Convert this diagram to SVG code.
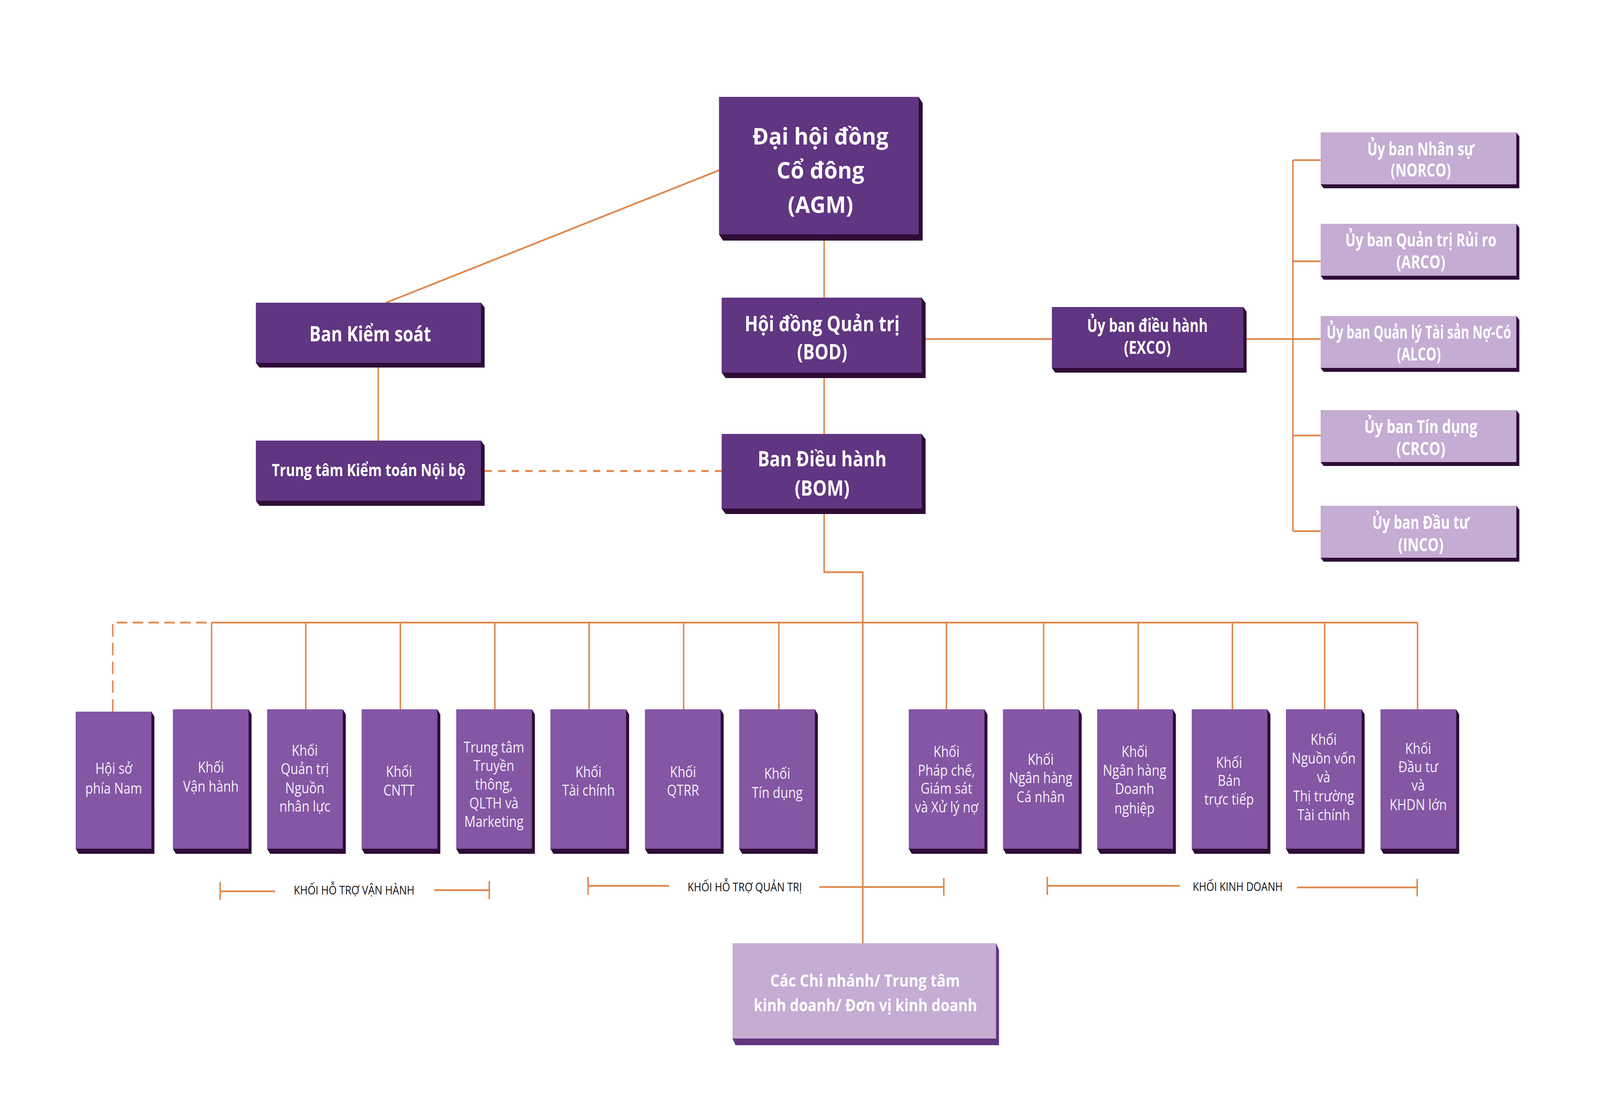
<svg xmlns="http://www.w3.org/2000/svg" width="4840" height="2824" viewBox="0 0 4840 2824" preserveAspectRatio="none">
<style>
svg:root{width:100vw;height:100vh;display:block}
.bg{fill:#ffffff}
.c{stroke:#e0874a;stroke-width:4.5;fill:none}
.d1{stroke:#e0874a;stroke-width:5;fill:none;stroke-dasharray:22 19}
.d2{stroke:#e0874a;stroke-width:4.5;fill:none;stroke-dasharray:32 16}
.m{fill:#603581}
.s{fill:#2e0c37}
.l{fill:#c4acd3}
.b{fill:#8456a4}
.sm{fill:#603581}
.t{font-family:"Open Sans","Noto Sans","DejaVu Sans",sans-serif;font-weight:700;fill:#ffffff;text-anchor:middle}
.r{font-family:"Open Sans","Noto Sans","DejaVu Sans",sans-serif;font-weight:400;fill:#f4eff8;text-anchor:middle;font-size:38px}
.g{font-family:"Open Sans","Noto Sans","DejaVu Sans",sans-serif;font-weight:400;fill:#111111;text-anchor:middle;font-size:31px}
</style>
<rect class="bg" x="0" y="0" width="4840" height="2824"/>

<g id="connectors">
  <path class="c" d="M2493 616 V762"/>
  <path class="c" d="M2493 968 V1111"/>
  <path class="c" d="M2493 1316 V1465 H2610 V2415"/>
  <path class="c" d="M2800 868 H3182"/>
  <path class="c" d="M3771 868 H3995"/>
  <path class="c" d="M3911 410 V1360"/>
  <path class="c" d="M3911 410 H3995 M3911 669 H3995 M3911 1115 H3995 M3911 1360 H3995"/>
  <path class="c" d="M2175 436 L1168 775"/>
  <path class="c" d="M1144 941 V1128"/>
  <path class="d1" d="M1466 1206 H2183"/>
  <path class="c" d="M640 1594 H4288"/>
  <path class="d2" d="M341 1822 V1594 H640"/>
  <path class="c" d="M640 1594 V1816 M925 1594 V1816 M1211 1594 V1816 M1497 1594 V1816 M1782 1594 V1816 M2068 1594 V1816 M2356 1594 V1816 M2863 1594 V1816 M3157 1594 V1816 M3443 1594 V1816 M3728 1594 V1816 M4007 1594 V1816 M4288 1594 V1816"/>
  <path class="c" d="M666 2258 V2304 M666 2282 H832 M1314 2279 H1480 M1480 2256 V2302"/>
  <path class="c" d="M1779 2245 V2291 M1779 2268 H2024 M2478 2271 H2855 M2855 2248 V2293"/>
  <path class="c" d="M3168 2245 V2291 M3168 2268 H3569 M3923 2272 H4287 M4287 2250 V2295"/>
</g>

<g id="agm">
  <polygon class="s" points="2779,248 2791,264 2791,616 2187,616 2175,600"/>
  <rect class="m" x="2175" y="248" width="604" height="352"/>
  <text class="t" font-size="60" x="2482" y="370" textLength="411" lengthAdjust="spacingAndGlyphs">Đại hội đồng</text>
  <text class="t" font-size="60" x="2482" y="457" textLength="265" lengthAdjust="spacingAndGlyphs">Cổ đông</text>
  <text class="t" font-size="60" x="2482" y="545" textLength="198" lengthAdjust="spacingAndGlyphs">(AGM)</text>
</g>

<g id="bod">
  <polygon class="s" points="2788,762 2800,776 2800,968 2195,968 2183,954"/>
  <rect class="m" x="2183" y="762" width="605" height="192"/>
  <text class="t" font-size="54" x="2487" y="848" textLength="469" lengthAdjust="spacingAndGlyphs">Hội đồng Quản trị</text>
  <text class="t" font-size="54" x="2487" y="920" textLength="152" lengthAdjust="spacingAndGlyphs">(BOD)</text>
</g>

<g id="bom">
  <polygon class="s" points="2788,1111 2800,1125 2800,1316 2195,1316 2183,1302"/>
  <rect class="m" x="2183" y="1111" width="605" height="191"/>
  <text class="t" font-size="54" x="2487" y="1194" textLength="390" lengthAdjust="spacingAndGlyphs">Ban Điều hành</text>
  <text class="t" font-size="54" x="2487" y="1269" textLength="166" lengthAdjust="spacingAndGlyphs">(BOM)</text>
</g>

<g id="ban-kiem-soat">
  <polygon class="s" points="1455,775 1466,787 1466,941 785,941 774,929"/>
  <rect class="m" x="774" y="775" width="681" height="154"/>
  <text class="t" font-size="53" x="1120" y="874" textLength="368" lengthAdjust="spacingAndGlyphs">Ban Kiểm soát</text>
</g>

<g id="ttkt">
  <polygon class="s" points="1455,1128 1466,1141 1466,1295 785,1295 774,1282"/>
  <rect class="m" x="774" y="1128" width="681" height="154"/>
  <text class="t" font-size="43" x="1115" y="1219" textLength="586" lengthAdjust="spacingAndGlyphs">Trung tâm Kiểm toán Nội bộ</text>
</g>

<g id="exco">
  <polygon class="s" points="3761,786 3771,798 3771,954 3192,954 3182,942"/>
  <rect class="m" x="3182" y="786" width="579" height="156"/>
  <text class="t" font-size="46" x="3471" y="850" textLength="365" lengthAdjust="spacingAndGlyphs">Ủy ban điều hành</text>
  <text class="t" font-size="46" x="3471" y="906" textLength="142" lengthAdjust="spacingAndGlyphs">(EXCO)</text>
</g>

<g id="norco">
  <polygon class="s" points="4587,339 4596,349 4596,482 4004,482 3995,472"/>
  <rect class="l" x="3995" y="339" width="592" height="133"/>
  <text class="t" font-size="46" x="4298" y="398" textLength="324" lengthAdjust="spacingAndGlyphs">Ủy ban Nhân sự</text>
  <text class="t" font-size="46" x="4298" y="452" textLength="182" lengthAdjust="spacingAndGlyphs">(NORCO)</text>
</g>
<g id="arco">
  <polygon class="s" points="4587,573 4596,583 4596,716 4004,716 3995,706"/>
  <rect class="l" x="3995" y="573" width="592" height="133"/>
  <text class="t" font-size="46" x="4298" y="631" textLength="457" lengthAdjust="spacingAndGlyphs">Ủy ban Quản trị Rủi ro</text>
  <text class="t" font-size="46" x="4298" y="687" textLength="148" lengthAdjust="spacingAndGlyphs">(ARCO)</text>
</g>
<g id="alco">
  <polygon class="s" points="4587,809 4596,819 4596,952 4004,952 3995,942"/>
  <rect class="l" x="3995" y="809" width="592" height="133"/>
  <text class="t" font-size="46" x="4292" y="867" textLength="558" lengthAdjust="spacingAndGlyphs">Ủy ban Quản lý Tài sản Nợ-Có</text>
  <text class="t" font-size="46" x="4292" y="923" textLength="133" lengthAdjust="spacingAndGlyphs">(ALCO)</text>
</g>
<g id="crco">
  <polygon class="s" points="4587,1050 4596,1060 4596,1193 4004,1193 3995,1183"/>
  <rect class="l" x="3995" y="1050" width="592" height="133"/>
  <text class="t" font-size="46" x="4298" y="1109" textLength="342" lengthAdjust="spacingAndGlyphs">Ủy ban Tín dụng</text>
  <text class="t" font-size="46" x="4298" y="1165" textLength="148" lengthAdjust="spacingAndGlyphs">(CRCO)</text>
</g>
<g id="inco">
  <polygon class="s" points="4587,1295 4596,1305 4596,1438 4004,1438 3995,1428"/>
  <rect class="l" x="3995" y="1295" width="592" height="133"/>
  <text class="t" font-size="46" x="4298" y="1354" textLength="294" lengthAdjust="spacingAndGlyphs">Ủy ban Đầu tư</text>
  <text class="t" font-size="46" x="4298" y="1411" textLength="137" lengthAdjust="spacingAndGlyphs">(INCO)</text>
</g>

<g id="hoi-so-phia-nam">
  <polygon class="s" points="458,1822 467,1835 467,2186 238,2186 229,2173"/>
  <rect class="b" x="229" y="1822" width="229" height="351"/>
  <text class="r" x="344" y="1981">Hội sở</text>
  <text class="r" x="344" y="2032">phía Nam</text>
</g>
<g id="khoi-van-hanh">
  <polygon class="s" points="752,1816 761,1829 761,2186 532,2186 523,2173"/>
  <rect class="b" x="523" y="1816" width="229" height="357"/>
  <text class="r" x="638" y="1978">Khối</text>
  <text class="r" x="638" y="2027">Vận hành</text>
</g>
<g id="khoi-nnl">
  <polygon class="s" points="1037,1816 1046,1829 1046,2186 817,2186 808,2173"/>
  <rect class="b" x="808" y="1816" width="229" height="357"/>
  <text class="r" x="922" y="1935">Khối</text>
  <text class="r" x="922" y="1982">Quản trị</text>
  <text class="r" x="922" y="2031">Nguồn</text>
  <text class="r" x="922" y="2078">nhân lực</text>
</g>
<g id="khoi-cntt">
  <polygon class="s" points="1323,1816 1332,1829 1332,2186 1103,2186 1094,2173"/>
  <rect class="b" x="1094" y="1816" width="229" height="357"/>
  <text class="r" x="1207" y="1989">Khối</text>
  <text class="r" x="1207" y="2037">CNTT</text>
</g>
<g id="tt-truyen-thong">
  <polygon class="s" points="1609,1816 1618,1829 1618,2186 1389,2186 1380,2173"/>
  <rect class="b" x="1380" y="1816" width="229" height="357"/>
  <text class="r" x="1494" y="1927">Trung tâm</text>
  <text class="r" x="1494" y="1974">Truyền</text>
  <text class="r" x="1494" y="2022">thông,</text>
  <text class="r" x="1494" y="2070">QLTH và</text>
  <text class="r" x="1494" y="2117">Marketing</text>
</g>
<g id="khoi-tai-chinh">
  <polygon class="s" points="1894,1816 1903,1829 1903,2186 1674,2186 1665,2173"/>
  <rect class="b" x="1665" y="1816" width="229" height="357"/>
  <text class="r" x="1780" y="1990">Khối</text>
  <text class="r" x="1780" y="2037">Tài chính</text>
</g>
<g id="khoi-qtrr">
  <polygon class="s" points="2180,1816 2189,1829 2189,2186 1960,2186 1951,2173"/>
  <rect class="b" x="1951" y="1816" width="229" height="357"/>
  <text class="r" x="2066" y="1990">Khối</text>
  <text class="r" x="2066" y="2037">QTRR</text>
</g>
<g id="khoi-tin-dung">
  <polygon class="s" points="2465,1816 2474,1829 2474,2186 2245,2186 2236,2173"/>
  <rect class="b" x="2236" y="1816" width="229" height="357"/>
  <text class="r" x="2351" y="1994">Khối</text>
  <text class="r" x="2351" y="2043">Tín dụng</text>
</g>
<g id="khoi-phap-che">
  <polygon class="s" points="2978,1816 2987,1829 2987,2186 2758,2186 2749,2173"/>
  <rect class="b" x="2749" y="1816" width="229" height="357"/>
  <text class="r" x="2863" y="1938">Khối</text>
  <text class="r" x="2863" y="1986">Pháp chế,</text>
  <text class="r" x="2863" y="2032">Giám sát</text>
  <text class="r" x="2863" y="2080">và Xử lý nợ</text>
</g>
<g id="khoi-nh-ca-nhan">
  <polygon class="s" points="3263,1816 3272,1829 3272,2186 3043,2186 3034,2173"/>
  <rect class="b" x="3034" y="1816" width="229" height="357"/>
  <text class="r" x="3148" y="1958">Khối</text>
  <text class="r" x="3148" y="2005">Ngân hàng</text>
  <text class="r" x="3148" y="2054">Cá nhân</text>
</g>
<g id="khoi-nh-doanh-nghiep">
  <polygon class="s" points="3548,1816 3557,1829 3557,2186 3328,2186 3319,2173"/>
  <rect class="b" x="3319" y="1816" width="229" height="357"/>
  <text class="r" x="3432" y="1938">Khối</text>
  <text class="r" x="3432" y="1986">Ngân hàng</text>
  <text class="r" x="3432" y="2033">Doanh</text>
  <text class="r" x="3432" y="2083">nghiệp</text>
</g>
<g id="khoi-ban-truc-tiep">
  <polygon class="s" points="3834,1816 3843,1829 3843,2186 3614,2186 3605,2173"/>
  <rect class="b" x="3605" y="1816" width="229" height="357"/>
  <text class="r" x="3718" y="1966">Khối</text>
  <text class="r" x="3718" y="2012">Bán</text>
  <text class="r" x="3718" y="2060">trực tiếp</text>
</g>
<g id="khoi-nguon-von">
  <polygon class="s" points="4119,1816 4128,1829 4128,2186 3899,2186 3890,2173"/>
  <rect class="b" x="3890" y="1816" width="229" height="357"/>
  <text class="r" x="4004" y="1907">Khối</text>
  <text class="r" x="4004" y="1955">Nguồn vốn</text>
  <text class="r" x="4004" y="2003">và</text>
  <text class="r" x="4004" y="2052">Thị trường</text>
  <text class="r" x="4004" y="2100">Tài chính</text>
</g>
<g id="khoi-dau-tu">
  <polygon class="s" points="4405,1816 4414,1829 4414,2186 4185,2186 4176,2173"/>
  <rect class="b" x="4176" y="1816" width="229" height="357"/>
  <text class="r" x="4290" y="1930">Khối</text>
  <text class="r" x="4290" y="1977">Đầu tư</text>
  <text class="r" x="4290" y="2024">và</text>
  <text class="r" x="4290" y="2074">KHDN lớn</text>
</g>

<g id="chi-nhanh">
  <polygon class="sm" points="3013,2415 3022,2432 3022,2676 2225,2676 2216,2659"/>
  <rect class="l" x="2216" y="2415" width="797" height="244"/>
  <text class="t" font-size="43" x="2617" y="2526" textLength="574" lengthAdjust="spacingAndGlyphs">Các Chi nhánh/ Trung tâm</text>
  <text class="t" font-size="43" x="2618" y="2589" textLength="676" lengthAdjust="spacingAndGlyphs">kinh doanh/ Đơn vị kinh doanh</text>
</g>

<g id="group-labels">
  <text class="g" x="1071" y="2290" textLength="365" lengthAdjust="spacingAndGlyphs">KHỐI HỖ TRỢ VẬN HÀNH</text>
  <text class="g" x="2253" y="2282" textLength="346" lengthAdjust="spacingAndGlyphs">KHỐI HỖ TRỢ QUẢN TRỊ</text>
  <text class="g" x="3744" y="2281" textLength="272" lengthAdjust="spacingAndGlyphs">KHỐI KINH DOANH</text>
</g>
</svg>
